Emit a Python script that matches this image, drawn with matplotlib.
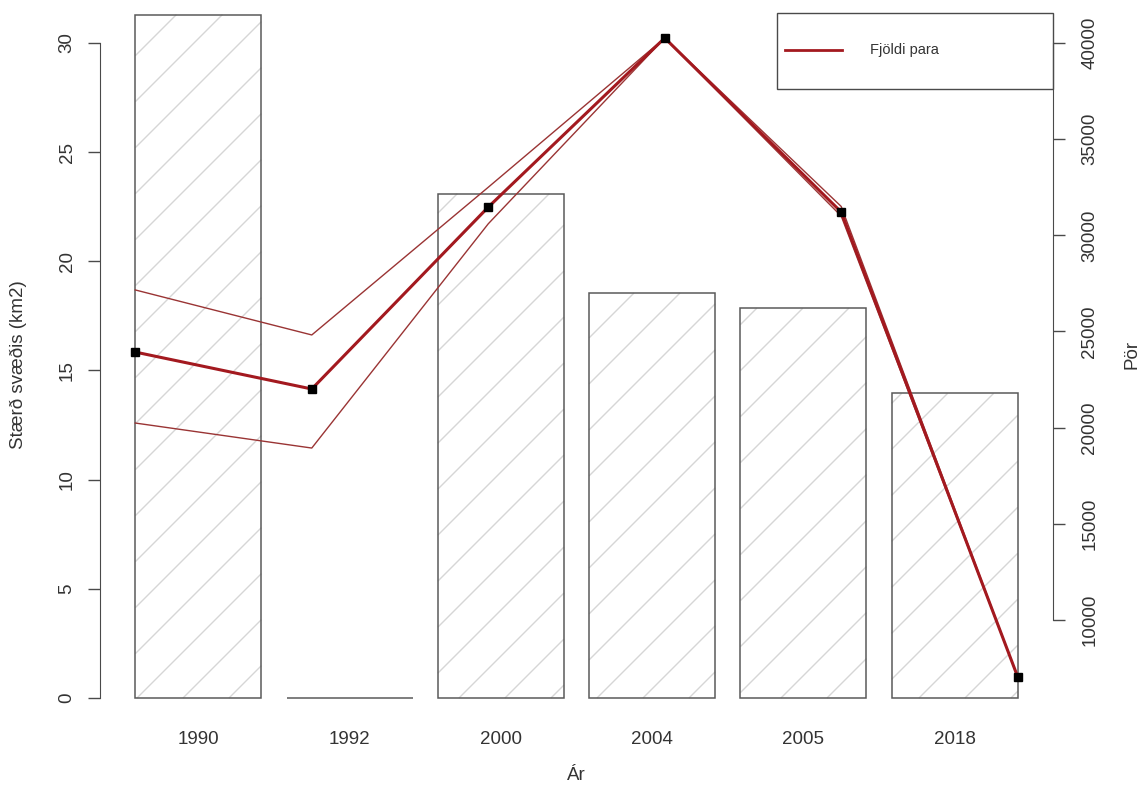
import numpy as np
import matplotlib.pyplot as plt
from matplotlib.patches import Rectangle
from matplotlib.lines import Line2D
from matplotlib.collections import LineCollection
from matplotlib.transforms import IdentityTransform

plt.rcParams['font.family'] = ['Liberation Sans', 'DejaVu Sans']

# stærð svæðis (km2) per ár og fjöldi para með efri/neðri mörkum
years = ['1990', '1992', '2000', '2004', '2005', '2018']
area_km2 = [31.3, 0, 23.1, 18.55, 17.85, 13.95]
pairs = [23930, 22010, 31470, 40260, 31210, 7040]
pairs_upper = [27160, 24820, 32500, 40260, 31500, 7040]
pairs_lower = [20240, 18940, 30600, 40260, 31000, 7040]
legend_label = 'Fjöldi para'

W, H = 1144, 793
fig = plt.figure(figsize=(W / 100, H / 100), dpi=100)
left, right, top, bottom = 100, 1053, 13, 724
rect = [left / W, 1 - bottom / H, (right - left) / W, (bottom - top) / H]

txt = '#333333'
axc = '#4a4a4a'
red = '#A3191F'
red_thin = '#9A3434'

# barir
ax = fig.add_axes(rect, label='bars')
bar_x = 0.7 + 1.2 * np.arange(len(years))
bars = ax.bar(bar_x, area_km2, width=1.0, facecolor='none',
              edgecolor='#5a5a5a', linewidth=1.1, zorder=2)
ax.set_xlim(-0.08, 7.48)
ax.set_ylim(-1.19, 31.37)

# skástrik inni í hverri bar (45 gráður, í pixlum)
step = 46
phase = 42
segs = []
for b in bars:
    x0, y0 = ax.transData.transform((b.get_x(), b.get_y()))
    x1, y1 = ax.transData.transform((b.get_x() + b.get_width(), b.get_y() + b.get_height()))
    if y1 - y0 < 1:
        continue
    k0 = int(np.floor((x0 - y1 - phase) / step))
    k1 = int(np.ceil((x1 - y0 - phase) / step))
    for k in range(k0, k1 + 1):
        c = phase + k * step
        lo = max(y0, x0 - c)
        hi = min(y1, x1 - c)
        if hi > lo:
            segs.append([(lo + c, lo), (hi + c, hi)])
ax.add_collection(LineCollection(segs, colors='#d6d6d6', linewidths=1.0,
                                 transform=IdentityTransform(), zorder=1))

for s in ['top', 'right', 'bottom']:
    ax.spines[s].set_visible(False)
ax.spines['left'].set_bounds(0, 30)
ax.spines['left'].set_color(axc)
ax.set_yticks(range(0, 31, 5))
ax.tick_params(axis='y', length=8.5, width=1, color=axc, labelcolor=txt,
               labelsize=13.5, pad=9)
plt.setp(ax.get_yticklabels(), rotation=90, va='center', ha='right')
ax.set_xticks(bar_x, years)
ax.tick_params(axis='x', length=0, labelcolor=txt, labelsize=13.5, pad=5)

# lína fyrir fjölda para
ax2 = fig.add_axes(rect, label='pairs')
ax2.patch.set_visible(False)
xs = np.arange(1, len(years) + 1)
ax2.plot(xs, pairs_upper, color=red_thin, lw=1)
ax2.plot(xs, pairs_lower, color=red_thin, lw=1)
ax2.plot(xs, pairs, color=red, lw=2.2)
ax2.plot(xs, pairs, 's', color='black', ms=5.5)
ax2.set_xlim(0.8, 6.2)
ax2.set_ylim(4592, 41560)
ax2.xaxis.set_visible(False)
for s in ['top', 'left', 'bottom']:
    ax2.spines[s].set_visible(False)
ax2.yaxis.tick_right()
ax2.spines['right'].set_bounds(10000, 40000)
ax2.spines['right'].set_color(axc)
ax2.set_yticks(range(10000, 40001, 5000))
ax2.tick_params(axis='y', length=8.5, width=1, color=axc, labelcolor=txt,
                labelsize=13.5, pad=12)
plt.setp(ax2.get_yticklabels(), rotation=90, va='center', ha='left')

# skýring
fig.add_artist(Rectangle((777 / W, 1 - 89 / H), 276 / W, 76 / H, transform=fig.transFigure,
                         fill=False, edgecolor=axc, linewidth=1))
fig.add_artist(Line2D([785 / W, 842 / W], [1 - 50 / H] * 2, color=red, lw=2))
fig.text(870 / W, 1 - 50 / H, legend_label, ha='left', va='center', fontsize=10.5, color=txt)

# ásaheiti
fig.text(576 / W, 1 - 775 / H, 'Ár', ha='center', va='center', fontsize=13.5, color=txt)
fig.text(18 / W, 1 - 365 / H, 'Stærð svæðis (km2)', ha='center', va='center',
         rotation=90, fontsize=13.5, color=txt)
fig.text(1132 / W, 1 - 354 / H, 'Pör', ha='center', va='center',
         rotation=90, fontsize=13.5, color=txt)

fig.savefig('out.png', dpi=100)
